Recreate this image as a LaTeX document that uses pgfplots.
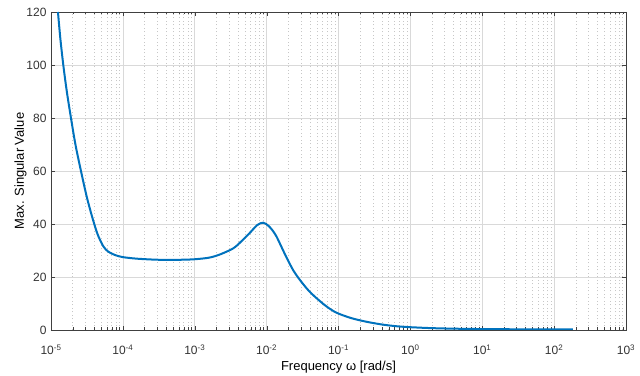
\documentclass[border=0pt]{standalone}
\usepackage{fontspec}
\setmainfont{Liberation Sans}
\usepackage{pgfplots}
\pgfplotsset{compat=1.18}
\definecolor{mblue}{rgb}{0,0.447,0.741}
\begin{document}
\begin{tikzpicture}
\begin{axis}[
  scale only axis, width=575pt, height=318pt,
  xmode=log, xmin=1e-5, xmax=1e3, ymin=0, ymax=120,
  ytick={0,20,...,120},
  xtick={1e-5,1e-4,1e-3,1e-2,1e-1,1e0,1e1,1e2,1e3},
  xticklabels={10\textsuperscript{-5},10\textsuperscript{-4},10\textsuperscript{-3},10\textsuperscript{-2},10\textsuperscript{-1},10\textsuperscript{0},10\textsuperscript{1},10\textsuperscript{2},10\textsuperscript{3}},
  /pgf/number format/assume math mode=true,
  tick label style={font=\fontsize{12}{14}\selectfont, text=black!80},
  xticklabel style={yshift=-11pt},
  yticklabel style={xshift=-1pt},
  label style={font=\fontsize{13}{15}\selectfont},
  xlabel={Frequency ω [rad/s]},
  xlabel style={yshift=0pt},
  ylabel={Max. Singular Value},
  ylabel style={yshift=-7pt},
  grid=both,
  major grid style={draw=black!15, line width=0.6pt},
  minor x grid style={draw=black!22, dash pattern=on 1pt off 2.5pt, line width=0.5pt},
  minor y tick num=0,
  tick align=inside,
  tickpos=both,
  axis line style={draw=black!75, line width=0.7pt},
  major tick style={draw=black!75},
  minor tick style={draw=black!75},
  major tick length=4pt, minor tick length=2.5pt,
  ]
\coordinate (ll) at (rel axis cs:0,0);
\coordinate (ur) at (rel axis cs:1,1);
\addplot[mblue, line width=2pt, smooth, tension=0.5] coordinates {
(1.25e-5,120) (1.349e-5,110) (1.483e-5,100) (1.66e-5,90) (1.897e-5,80)
(2.188e-5,70) (2.612e-5,60) (3.162e-5,50) (3.802e-5,42) (4.467e-5,36)
(5.37e-5,31.5) (6.31e-5,29.5) (7.94e-5,28.2) (1e-4,27.5) (1.585e-4,26.9)
(3.162e-4,26.5) (6.31e-4,26.5) (1e-3,26.7) (1.585e-3,27.3) (2.239e-3,28.5)
(3.428e-3,30.8) (4.467e-3,33.5) (5.861e-3,36.7) (7.413e-3,39.6) (8.974e-3,40.5)
(1.072e-2,39.2) (1.23e-2,37.3) (1.377e-2,35.2) (1.6e-2,31.5) (1.897e-2,27.3) (2.35e-2,22.5) (2.904e-2,18.9) (3.8e-2,15) (4.955e-2,12)
(6.8e-2,8.9) (9.419e-2,6.5) (0.15,4.5) (0.246,3.1) (0.42,2) (0.7145,1.3) (1.2,0.95) (1.995,0.7) (4,0.5) (10,0.35) (40,0.25) (182,0.2)
};
\end{axis}
\pgfresetboundingbox
\path ([shift={(-51pt,-46pt)}]ll) rectangle ([shift={(14pt,12pt)}]ur);
\end{tikzpicture}
\end{document}
